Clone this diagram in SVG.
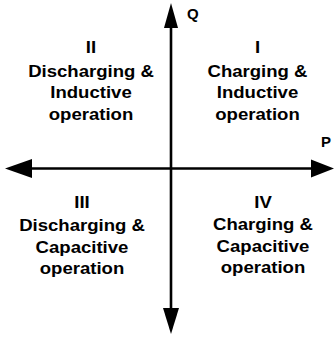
<svg xmlns="http://www.w3.org/2000/svg" width="335" height="339" viewBox="0 0 335 339">
<style>
.axis{stroke:#000;stroke-width:2.6;fill:none}
.head{fill:#000;stroke:none}
.lbl{font-family:"Liberation Sans",Arial,Helvetica,sans-serif;font-weight:bold;font-size:16px;fill:#000;text-anchor:middle}
.ax{font-family:"Liberation Sans",Arial,Helvetica,sans-serif;font-weight:bold;font-size:15px;fill:#000}
</style>
<rect width="335" height="339" fill="#fff"/>
<g id="connectors">
<line class="axis" x1="171" y1="26" x2="171" y2="310"/>
<line class="axis" x1="30" y1="168.5" x2="313" y2="168.5"/>
<polygon class="head" points="171,3 164,28 178,28"/>
<polygon class="head" points="171,334 163,308 179,308"/>
<polygon class="head" points="5,168.5 32,159 32,178"/>
<polygon class="head" points="334,168.5 311,159.5 311,177.5"/>
</g>
<g id="axis-q"><text class="ax" x="187" y="19">Q</text></g>
<g id="axis-p"><text class="ax" x="321" y="147">P</text></g>
<g id="quadrant-II" transform="translate(91,0) scale(1.16,1)">
<text class="lbl" x="0" y="53.5">II</text>
<text class="lbl" x="0" y="76.7">Discharging &amp;</text>
<text class="lbl" x="0" y="98.5">Inductive</text>
<text class="lbl" x="0" y="120.5">operation</text>
</g>
<g id="quadrant-I" transform="translate(257.5,0) scale(1.16,1)">
<text class="lbl" x="0" y="53.5">I</text>
<text class="lbl" x="0" y="76.7">Charging &amp;</text>
<text class="lbl" x="0" y="98.5">Inductive</text>
<text class="lbl" x="0" y="120.5">operation</text>
</g>
<g id="quadrant-III" transform="translate(82,0) scale(1.16,1)">
<text class="lbl" x="0" y="208.5">III</text>
<text class="lbl" x="0" y="231.5">Discharging &amp;</text>
<text class="lbl" x="0" y="253">Capacitive</text>
<text class="lbl" x="0" y="274.5">operation</text>
</g>
<g id="quadrant-IV" transform="translate(263,0) scale(1.16,1)">
<text class="lbl" x="0" y="208.3">IV</text>
<text class="lbl" x="0" y="230.5">Charging &amp;</text>
<text class="lbl" x="0" y="252.2">Capacitive</text>
<text class="lbl" x="0" y="273.5">operation</text>
</g>
</svg>
